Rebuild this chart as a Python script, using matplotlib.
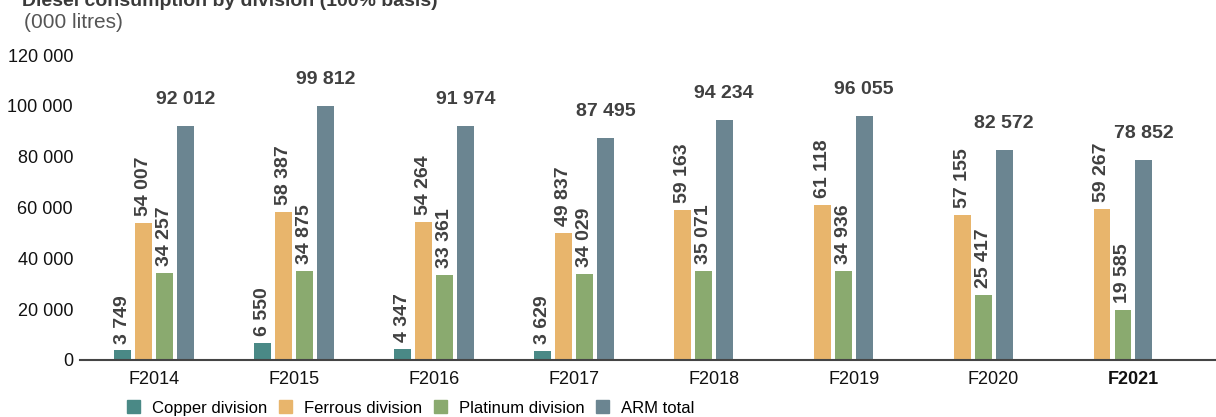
import matplotlib
matplotlib.use("Agg")
import matplotlib.pyplot as plt
import numpy as np
from matplotlib.patches import Rectangle

plt.rcParams['font.family'] = ['Liberation Sans', 'DejaVu Sans']

years = ["F2014", "F2015", "F2016", "F2017", "F2018", "F2019", "F2020", "F2021"]
copper = [3749, 6550, 4347, 3629, None, None, None, None]
ferrous = [54007, 58387, 54264, 49837, 59163, 61118, 57155, 59267]
platinum = [34257, 34875, 33361, 34029, 35071, 34936, 25417, 19585]
arm_total = [92012, 99812, 91974, 87495, 94234, 96055, 82572, 78852]
series_names = ["Copper division", "Ferrous division", "Platinum division", "ARM total"]
colors = ["#4a8986", "#e8b56c", "#8aaa6f", "#6b8591"]
yticks = [0, 20000, 40000, 60000, 80000, 100000, 120000]

def fmt(v):
    return f"{v:,}".replace(",", " ")

fig = plt.figure(figsize=(12.16, 4.17), dpi=100)
ax = fig.add_axes([80/1216, 1-360/417, 1-80/1216, (360-55)/417])

x = np.arange(len(years))
w = 0.121
pitch = 0.15
data = [copper, ferrous, platinum, arm_total]
label_color = "#404040"
for i in range(len(years)):
    present = [si for si in range(4) if data[si][i] is not None]
    # bars fill slots from the left of the group; missing series are dropped
    for k, si in enumerate(present):
        off = (k - 1.5) * pitch
        v = data[si][i]
        ax.bar(x[i] + off, v, width=w, color=colors[si], linewidth=0)
        if si < 3:
            ax.annotate(fmt(v), (x[i] + off, v), xytext=(0, 5), textcoords="offset points",
                        rotation=90, ha="center", va="bottom", fontsize=14,
                        fontweight="bold", color=label_color)
        else:
            ax.annotate(fmt(v), (x[i] + off, v), xytext=(0, 13), textcoords="offset points",
                        ha="center", va="bottom", fontsize=14,
                        fontweight="bold", color=label_color)

ax.set_xlim(-0.53, 7.59)
ax.set_ylim(0, 120000)
ax.set_yticks(yticks)
ax.set_yticklabels([fmt(t) for t in yticks], fontsize=13, color="#111111")
ax.set_xticks(x)
ax.set_xticklabels(years, fontsize=13, color="#111111")
ax.get_xticklabels()[-1].set_fontweight("bold")
ax.tick_params(axis="both", length=0)
ax.tick_params(axis="y", pad=5)
ax.tick_params(axis="x", pad=8)
for s in ["top", "right", "left"]:
    ax.spines[s].set_visible(False)
ax.spines["bottom"].set_color("#444444")
ax.spines["bottom"].set_linewidth(1.5)

fig.text(22/1216, 1-1/417, "Diesel consumption by division (100% basis)", fontsize=14,
         fontweight="bold", color="#3a3a3a", ha="left", va="center")
fig.text(24/1216, 1-23/417, "(000 litres)", fontsize=15, color="#555555", ha="left", va="center")

handles = [Rectangle((0, 0), 1, 1, color=c) for c in colors]
fig.legend(handles, series_names, loc="center left", bbox_to_anchor=(127/1216, 1-408/417),
           ncol=4, frameon=False, fontsize=12, handlelength=0.8, handleheight=0.8,
           handletextpad=0.7, columnspacing=0.7, borderaxespad=0, borderpad=0)

fig.savefig("out.png", dpi=100)
